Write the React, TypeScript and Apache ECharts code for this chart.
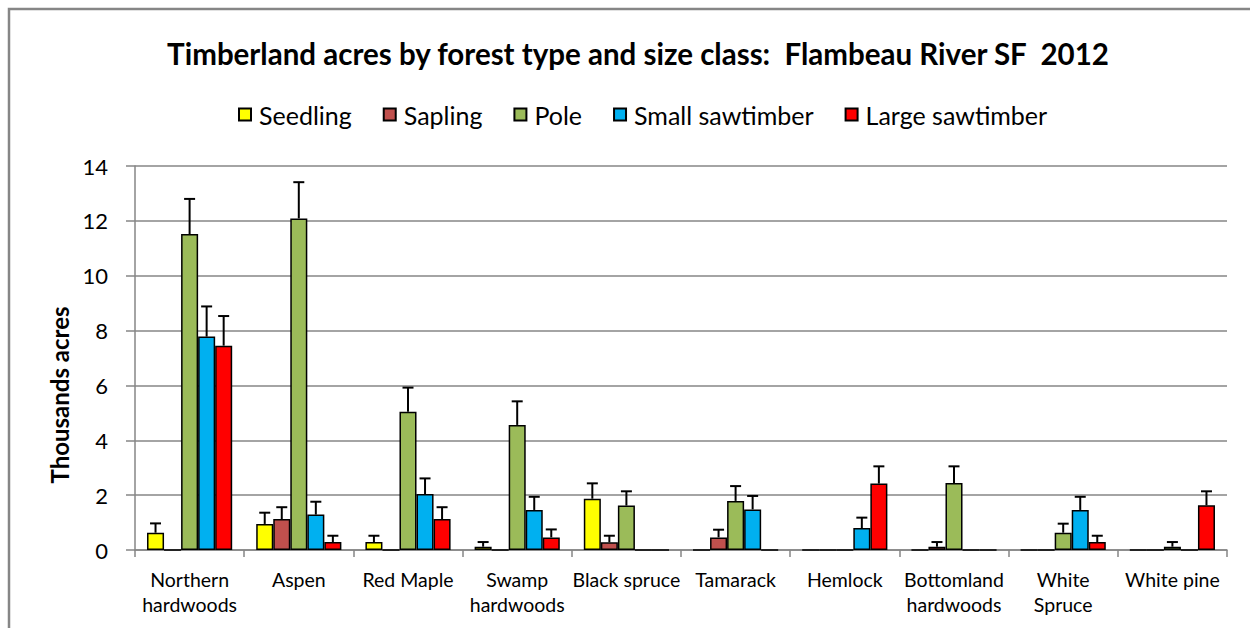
import React, { useEffect, useRef } from "react";
import * as echarts from "echarts";

const categories = [
  "Northern\nhardwoods",
  "Aspen",
  "Red Maple",
  "Swamp\nhardwoods",
  "Black spruce",
  "Tamarack",
  "Hemlock",
  "Bottomland\nhardwoods",
  "White\nSpruce",
  "White pine",
];

const seriesNames = ["Seedling", "Sapling", "Pole", "Small sawtimber", "Large sawtimber"];
const seriesColors = ["#FFFF00", "#C0504D", "#9BBB59", "#00B0F0", "#FF0000"];

const seedling = [0.63, 0.95, 0.29, 0.12, 1.87, 0, 0, 0, 0, 0];
const seedlingErr = [0.34, 0.41, 0.23, 0.17, 0.56, 0, 0, 0, 0, 0];
const sapling = [0, 1.13, 0, 0, 0.28, 0.46, 0, 0.12, 0, 0];
const saplingErr = [0, 0.43, 0, 0, 0.24, 0.28, 0, 0.17, 0, 0];
const pole = [11.52, 12.09, 5.04, 4.56, 1.62, 1.79, 0, 2.44, 0.63, 0.12];
const poleErr = [1.28, 1.32, 0.88, 0.86, 0.52, 0.54, 0, 0.61, 0.33, 0.17];
const smallSaw = [7.78, 1.29, 2.04, 1.46, 0, 1.48, 0.8, 0, 1.46, 0];
const smallSawErr = [1.1, 0.47, 0.57, 0.48, 0, 0.49, 0.38, 0, 0.48, 0];
const largeSaw = [7.45, 0.29, 1.13, 0.46, 0, 0, 2.42, 0, 0.29, 1.63];
const largeSawErr = [1.08, 0.23, 0.43, 0.29, 0, 0, 0.63, 0, 0.23, 0.51];

const values = [seedling, sapling, pole, smallSaw, largeSaw];
const errors = [seedlingErr, saplingErr, poleErr, smallSawErr, largeSawErr];

const FONT = "Lato";
const GAP = 0.22;

export default function App() {
  const ref = useRef<HTMLDivElement>(null);
  useEffect(() => {
    if (!ref.current) return;
    const chart = echarts.init(ref.current, null, { renderer: "svg" });
    const n = seriesNames.length;
    const barSeries = seriesNames.map((name, i) => ({
      name,
      type: "bar",
      data: values[i],
      barGap: "0%",
      barCategoryGap: "22%",
      itemStyle: { color: seriesColors[i], borderColor: "#000", borderWidth: 1.5 },
      z: 2,
    }));
    const errSeries = seriesNames.map((name, i) => ({
      name: name + " err",
      type: "custom",
      z: 3,
      silent: true,
      data: values[i].map((v, k) => [k, v, v + errors[i][k]]),
      renderItem: (params: any, api: any) => {
        const k = api.value(0);
        const v = api.value(1);
        const t = api.value(2);
        if (!(t > v)) return null;
        const base = api.coord([k, v]);
        const top = api.coord([k, t]);
        const band = api.size([1, 0])[0];
        const bw = (band * (1 - GAP)) / n;
        const x = base[0] + (i - (n - 1) / 2) * bw;
        const style = { stroke: "#000", lineWidth: 2, fill: "none" };
        return {
          type: "group",
          children: [
            { type: "line", shape: { x1: x, y1: base[1], x2: x, y2: top[1] }, style },
            { type: "line", shape: { x1: x - 5.5, y1: top[1], x2: x + 5.5, y2: top[1] }, style },
          ],
        };
      },
    }));

    chart.setOption({
      animation: false,
      backgroundColor: "#fff",
      textStyle: { fontFamily: FONT },
      title: {
        text: "Timberland acres by forest type and size class:  Flambeau River SF  2012",
        left: 633,
        textAlign: "center",
        top: 33,
        textStyle: { fontFamily: FONT, fontWeight: "bold", fontSize: 29.5, color: "#000" },
      },
      legend: {
        data: seriesNames,
        top: 97,
        left: 233,
        icon: "rect",
        itemWidth: 12,
        itemHeight: 12,
        itemGap: 31,
        textStyle: { fontFamily: FONT, fontSize: 25, color: "#000", padding: [0, 0, 0, 3] },
      },
      grid: { left: 135, right: 23, top: 166, bottom: 78, containLabel: false },
      xAxis: {
        type: "category",
        data: categories,
        axisLine: { lineStyle: { color: "#868686", width: 1.5 } },
        axisTick: { show: true, length: 7, lineStyle: { color: "#868686", width: 1.5 } },
        axisLabel: {
          fontFamily: FONT,
          fontSize: 19.5,
          color: "#000",
          lineHeight: 25,
          margin: 17,
          interval: 0,
        },
      },
      yAxis: {
        type: "value",
        min: 0,
        max: 14,
        interval: 2,
        axisLine: { show: true, lineStyle: { color: "#868686", width: 1.5 } },
        axisTick: { show: true, length: 9, lineStyle: { color: "#868686", width: 1.5 } },
        splitLine: { lineStyle: { color: "#868686", width: 1.5 } },
        axisLabel: { fontFamily: FONT, fontSize: 22, color: "#000", margin: 27 },
      },
      graphic: [
        {
          type: "rect",
          shape: { x: 9, y: 9, width: 1260, height: 640 },
          style: { fill: "none", stroke: "#868686", lineWidth: 2.5 },
          silent: true,
        },
        {
          type: "text",
          x: 59,
          y: 395,
          rotation: Math.PI / 2,
          style: {
            text: "Thousands acres",
            fontFamily: FONT,
            fontWeight: "bold",
            fontSize: 24,
            fill: "#000",
            align: "center",
            verticalAlign: "middle",
          },
        },
      ],
      series: [...barSeries, ...errSeries],
    });
    return () => chart.dispose();
  }, []);
  return (
    <div
      ref={ref}
      style={{ position: "absolute", left: 0, top: 0, width: 1250, height: 628 }}
    />
  );
}
